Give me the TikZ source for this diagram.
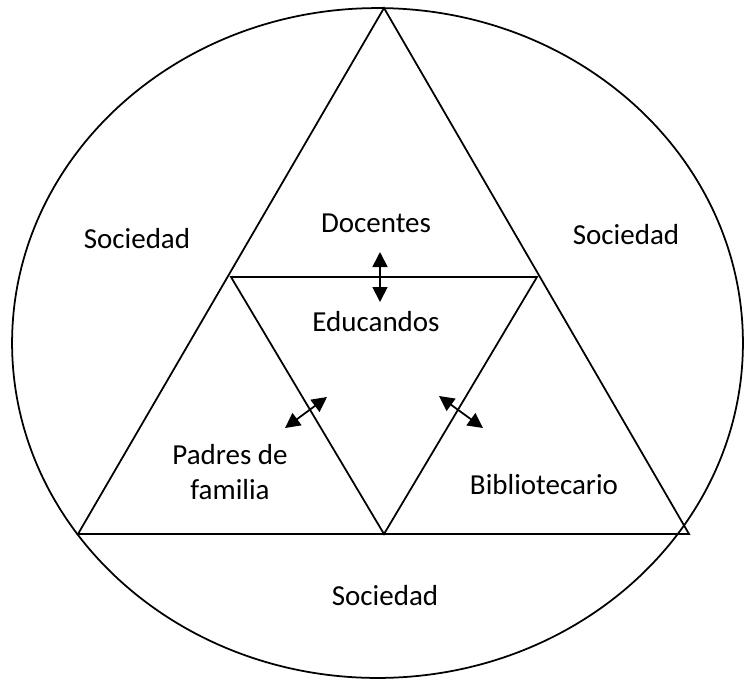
\documentclass[tikz,border=0pt]{standalone}
\usepackage{fontspec}
\setmainfont{Carlito}
\usetikzlibrary{arrows.meta}

\begin{document}
\begin{tikzpicture}[x=0.02cm, y=-0.02cm, line width=1pt,
    lbl/.style={font=\fontsize{16.5}{19.8}\selectfont, align=center, inner sep=0pt, anchor=base},
    both/.style={{Triangle[length=0.3cm,width=0.3cm]}-{Triangle[length=0.3cm,width=0.3cm]}}]
                \useasboundingbox (0,0) rectangle (746,681);
                \draw (377.5,343) ellipse [x radius=7.31cm, y radius=6.7cm];
                \coordinate (top) at (384,8);
                \coordinate (bl) at (78,534);
                \coordinate (br) at (689,534);
                \draw (top) -- (bl) -- (br) -- cycle;
                \coordinate (il) at (231,277);
                \coordinate (ir) at (537,277);
                \coordinate (ib) at (384,534);
                \draw (il) -- (ir) -- (ib) -- cycle;
                \node[lbl] (socleft) at (137,248) {Sociedad};
                \node[lbl] (socright) at (626,244) {Sociedad};
                \node[lbl] (socbottom) at (385,605) {Sociedad};
                \node[lbl] (docentes) at (376,232) {Docentes};
                \node[lbl] (educandos) at (376,331) {Educandos};
                \node[lbl] (padres) at (230,499) {Padres de\\familia};
                \node[lbl] (biblio) at (544,494) {Bibliotecario};
                \coordinate (da) at (380,252);
                \coordinate (db) at (380,302);
                \draw[both] (da) -- (db);
                \coordinate (pa) at (285,428);
                \coordinate (pb) at (327,397);
                \draw[both] (pa) -- (pb);
                \coordinate (ba) at (439,396);
                \coordinate (bb) at (483,428);
                \draw[both] (ba) -- (bb);
\end{tikzpicture}
\end{document}
